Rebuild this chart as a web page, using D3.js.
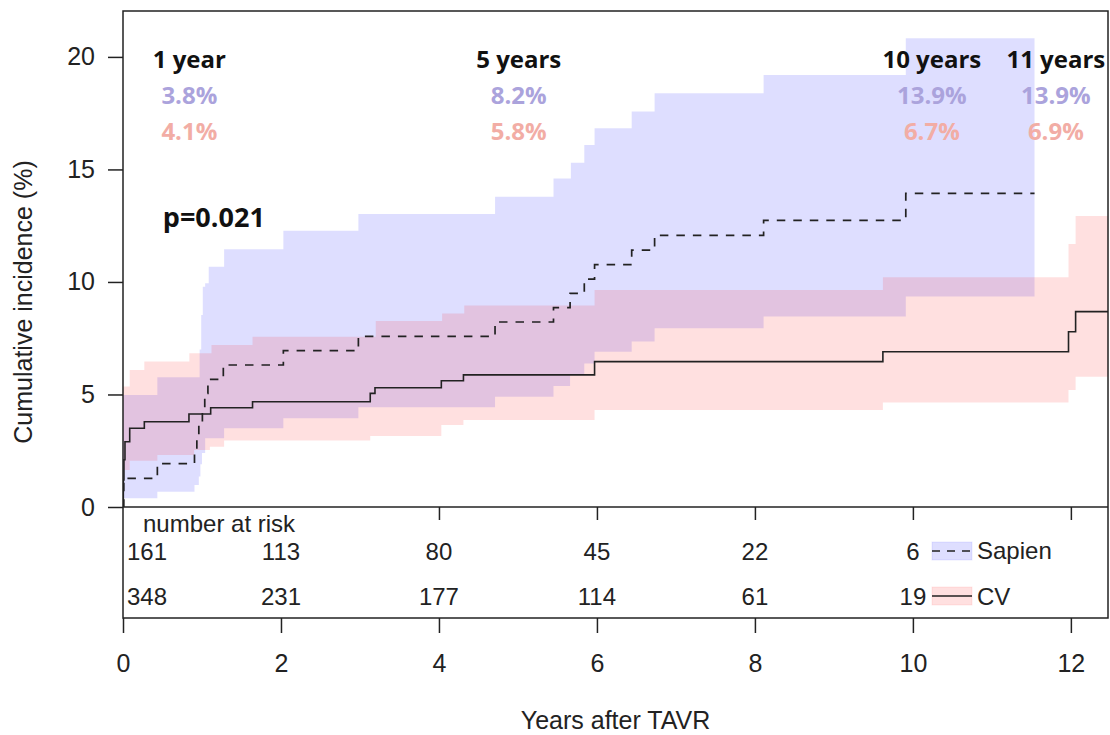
<!DOCTYPE html>
<html>
<head>
<meta charset="utf-8">
<script src="https://d3js.org/d3.v7.min.js"></script>
<style>
  body { margin: 0; background: #fff; }
  svg { display: block; }
  .ax text { font-family: "Liberation Sans", Arial, sans-serif; font-size: 25px; fill: #222; }
  .ax line { stroke: #222; stroke-width: 1.5; }
  .ax path { display: none; }
</style>
</head>
<body>
<div id="chart"></div>
<script>

// Sapien: cumulative incidence step curve and its confidence band
var sapT  = [0, 0.01, 0.435, 0.905, 0.935, 0.96, 1.005, 1.035, 1.075, 1.27, 2.03, 2.98, 4.71, 5.45, 5.66, 5.84, 5.97, 6.44, 6.73, 8.11, 9.91, 11.54];
var sapV  = [0, 1.27, 1.93, 2.55, 3.17, 3.8, 4.42, 5.05, 5.67, 6.31, 6.95, 7.58, 8.22, 8.86, 9.49, 10.13, 10.77, 11.41, 12.07, 12.74, 13.94, 13.94];
var sapHiT = [0, 0.435, 0.97, 0.99, 1.01, 1.04, 1.085, 1.28, 2.03, 2.98, 4.71, 5.45, 5.67, 5.84, 5.97, 6.44, 6.73, 8.11, 9.91, 11.54];
var sapHiV = [4.98, 5.76, 7.0, 8.53, 9.79, 9.94, 10.68, 11.45, 12.27, 13.02, 13.79, 14.6, 15.3, 16.09, 16.83, 17.57, 18.38, 19.2, 20.83, 20.83];
var sapLoT = [0, 0.435, 0.905, 0.96, 0.98, 1.0, 1.04, 1.28, 2.03, 2.98, 4.71, 5.45, 5.66, 5.84, 5.97, 6.44, 6.73, 8.11, 9.91, 11.54];
var sapLoV = [0.39, 0.68, 0.98, 1.35, 1.9, 2.4, 3.05, 3.5, 3.94, 4.43, 4.9, 5.38, 5.87, 6.38, 6.9, 7.35, 7.94, 8.46, 9.35, 9.35];

// CV
var cvT  = [0, 0.004, 0.012, 0.025, 0.085, 0.27, 0.835, 1.11, 1.64, 3.13, 3.19, 4.03, 4.31, 5.97, 9.62, 11.97, 12.06, 12.47];
var cvV  = [0, 1.2, 2.1, 2.9, 3.5, 3.79, 4.13, 4.41, 4.68, 5.05, 5.3, 5.61, 5.87, 6.46, 6.9, 7.79, 8.68, 8.68];
var cvHiT = [0, 0.085, 0.27, 0.84, 1.12, 1.64, 3.2, 4.04, 4.32, 5.97, 9.62, 11.97, 12.06, 12.47];
var cvHiV = [5.35, 6.09, 6.46, 6.83, 7.2, 7.57, 8.27, 8.6, 8.95, 9.64, 10.21, 11.69, 12.93, 12.93];
var cvLoT = [0, 0.085, 0.435, 0.9, 1.1, 1.28, 3.13, 4.03, 4.31, 5.97, 9.62, 11.97, 12.06, 12.47];
var cvLoV = [1.64, 2.06, 2.31, 2.53, 2.68, 2.95, 3.16, 3.64, 3.87, 4.31, 4.64, 5.2, 5.79, 5.79];

// number at risk table
var riskTimes = [0, 2, 4, 6, 8, 10];
var sapRisk = [161, 113, 80, 45, 22, 6];
var cvRisk  = [348, 231, 177, 114, 61, 19];

// milestone annotations
var milestones = ["1 year", "5 years", "10 years", "11 years"];
var sapPct = ["3.8%", "8.2%", "13.9%", "13.9%"];
var cvPct  = ["4.1%", "5.8%", "6.7%", "6.9%"];
var pValue = "p=0.021";

var xTicks = [0, 2, 4, 6, 8, 10, 12];
var yTicks = [0, 5, 10, 15, 20];
var legendLabels = ["Sapien", "CV"];

// layout
var width = 1110, height = 735;
var plotLeft = 123, plotRight = 1108, plotTop = 11, plotBottom = 507, tableBottom = 618;
var blueFill = "rgba(0,0,255,0.13)", redFill = "rgba(255,0,0,0.12)";
var sapText = "#aba3dc", cvText = "#f2ada5";
var annotX = [0.84, 5.01, 10.24, 11.81];   // label centres, in years

var x = d3.scaleLinear().domain([0, 12.47]).range([plotLeft, plotRight]);
var y = d3.scaleLinear().domain([0, 22.04]).range([plotBottom, plotTop]);

var svg = d3.select("#chart").append("svg")
    .attr("width", width)
    .attr("height", height);

svg.append("clipPath").attr("id", "plotclip")
  .append("rect")
    .attr("x", plotLeft).attr("y", plotTop)
    .attr("width", plotRight - plotLeft).attr("height", plotBottom - plotTop);

function stepVal(T, V, t) {
  var v = V[0];
  for (var i = 0; i < T.length; i++) if (T[i] <= t) v = V[i];
  return v;
}

function band(loT, loV, hiT, hiV) {
  var ts = Array.from(new Set(loT.concat(hiT))).sort(function(a, b) { return a - b; });
  return ts.map(function(t) { return {t: t, lo: stepVal(loT, loV, t), hi: stepVal(hiT, hiV, t)}; });
}

var area = d3.area()
    .curve(d3.curveStepAfter)
    .x(function(d) { return x(d.t); })
    .y0(function(d) { return y(d.lo); })
    .y1(function(d) { return y(d.hi); });

var line = d3.line()
    .curve(d3.curveStepAfter)
    .x(function(d) { return x(d[0]); })
    .y(function(d) { return y(d[1]); });

var plot = svg.append("g").attr("clip-path", "url(#plotclip)");

plot.append("path")
    .attr("d", area(band(sapLoT, sapLoV, sapHiT, sapHiV)))
    .attr("fill", blueFill);

plot.append("path")
    .attr("d", area(band(cvLoT, cvLoV, cvHiT, cvHiV)))
    .attr("fill", redFill);

plot.append("path")
    .attr("d", line(d3.zip(cvT, cvV)))
    .attr("fill", "none")
    .attr("stroke", "#222")
    .attr("stroke-width", 1.6);

plot.append("path")
    .attr("d", line(d3.zip(sapT, sapV)))
    .attr("fill", "none")
    .attr("stroke", "#222")
    .attr("stroke-width", 1.7)
    .attr("stroke-dasharray", "8.5,8");

// frame
var frame = svg.append("g")
    .attr("fill", "none")
    .attr("stroke", "#222")
    .attr("stroke-width", 1.5);
frame.append("rect")
    .attr("x", plotLeft).attr("y", plotTop)
    .attr("width", plotRight - plotLeft).attr("height", tableBottom - plotTop);
frame.append("line")
    .attr("x1", plotLeft).attr("x2", plotRight)
    .attr("y1", plotBottom).attr("y2", plotBottom);

// axes
svg.append("g")
    .attr("class", "ax")
    .attr("transform", "translate(" + plotLeft + ",0)")
    .call(d3.axisLeft(y).tickValues(yTicks).tickSize(15).tickPadding(13));

svg.append("g")
    .attr("class", "ax")
    .attr("transform", "translate(0," + tableBottom + ")")
    .call(d3.axisBottom(x).tickValues(xTicks).tickSize(15).tickPadding(21));

svg.append("g")
    .attr("class", "ax")
    .attr("transform", "translate(0," + plotBottom + ")")
    .call(d3.axisBottom(x).tickValues(xTicks.filter(function(d) { return d >= 4; }))
      .tickSize(13).tickFormat(""));

svg.append("text")
    .attr("x", (plotLeft + plotRight) / 2)
    .attr("y", 729)
    .attr("text-anchor", "middle")
    .style("font-family", "Liberation Sans, Arial, sans-serif")
    .style("font-size", "25px")
    .style("fill", "#222")
    .text("Years after TAVR");

svg.append("text")
    .attr("transform", "translate(32,302) rotate(-90)")
    .attr("text-anchor", "middle")
    .style("font-family", "Liberation Sans, Arial, sans-serif")
    .style("font-size", "25px")
    .style("fill", "#222")
    .text("Cumulative incidence (%)");

// number at risk
var table = svg.append("g")
    .style("font-family", "Liberation Sans, Arial, sans-serif")
    .style("font-size", "24px")
    .style("fill", "#222");

table.append("text")
    .attr("x", x(0) + 20)
    .attr("y", 532)
    .text("number at risk");

[[sapRisk, 560], [cvRisk, 605]].forEach(function(row) {
  table.selectAll(null)
      .data(row[0])
      .enter()
      .append("text")
      .attr("x", function(d, i) { return i === 0 ? x(riskTimes[i]) + 4 : x(riskTimes[i]); })
      .attr("y", row[1])
      .attr("text-anchor", function(d, i) { return i === 0 ? "start" : "middle"; })
      .text(function(d) { return d; });
});

// legend
var legend = table.selectAll(".leg")
    .data(legendLabels)
    .enter()
    .append("g")
    .attr("class", "leg")
    .attr("transform", function(d, i) { return "translate(932," + (542 + i * 45) + ")"; });

legend.append("rect")
    .attr("width", 40).attr("height", 18)
    .attr("fill", function(d, i) { return i === 0 ? blueFill : redFill; })
    .attr("stroke", function(d, i) { return i === 0 ? "rgba(0,0,255,0.08)" : "rgba(255,0,0,0.08)"; });

legend.append("line")
    .attr("x1", 0).attr("x2", 40)
    .attr("y1", 9).attr("y2", 9)
    .attr("stroke", "#222")
    .attr("stroke-width", 1.6)
    .attr("stroke-dasharray", function(d, i) { return i === 0 ? "8,7" : null; });

legend.append("text")
    .attr("x", 45)
    .attr("y", function(d, i) { return i === 0 ? 17 : 18; })
    .text(function(d) { return d; });

// milestone annotations
var ann = svg.append("g")
    .style("font-family", "'Open Sans', sans-serif")
    .style("font-weight", "bold")
    .style("font-size", "24px")
    .attr("text-anchor", "middle");

[[milestones, 19.5, "#111"], [sapPct, 17.9, sapText], [cvPct, 16.3, cvText]].forEach(function(row) {
  ann.selectAll(null)
      .data(row[0])
      .enter()
      .append("text")
      .attr("x", function(d, i) { return x(annotX[i]); })
      .attr("y", y(row[1]))
      .style("fill", row[2])
      .text(function(d) { return d; });
});

ann.append("text")
    .attr("x", x(1.15))
    .attr("y", y(12.44))
    .style("font-size", "27px")
    .style("fill", "#111")
    .text(pValue);

</script>
</body>
</html>
